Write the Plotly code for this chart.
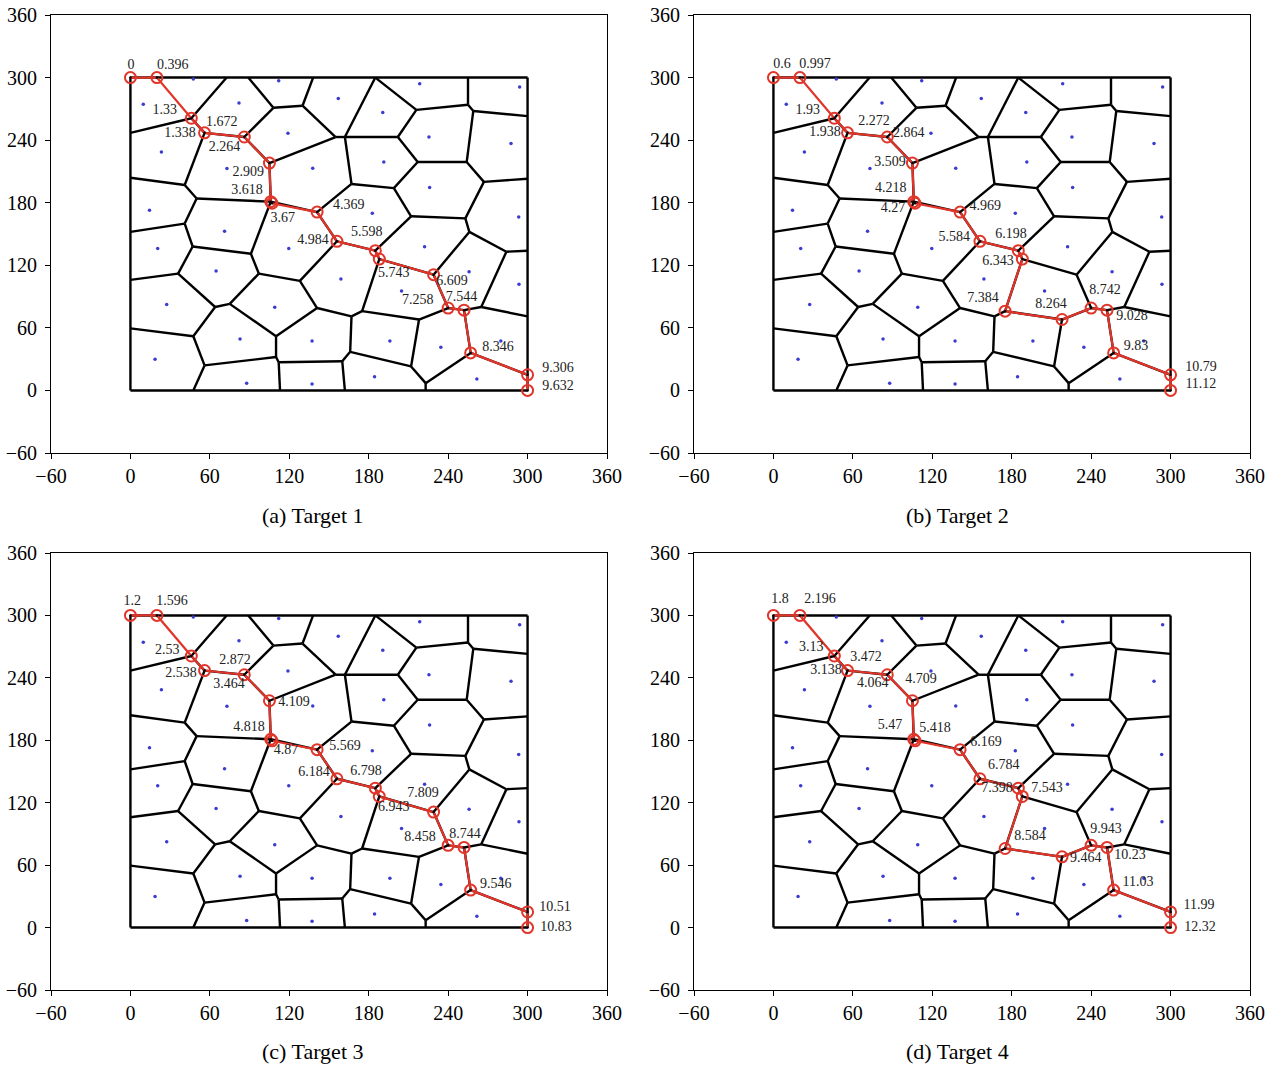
import plotly.graph_objects as go

FONT = "Liberation Serif"

# ---------------- Voronoi vertices (data coordinates) ----------------
VERT_NAMES = ["c00", "c30", "c33", "c03",
              "t1", "t2", "t3", "t4", "t5",
              "l1", "l2", "l3", "l4", "l5",
              "r1", "r2", "r3", "r4", "r5",
              "b1", "b2", "b3", "b4",
              "A", "B", "C", "D", "E", "F", "G", "H", "I", "J", "K", "L", "M", "N", "O", "P",
              "Q", "R", "R2", "S", "T", "U", "V", "W", "X", "Y", "Z", "Z2", "AA", "BB", "CC", "DD",
              "N1", "N2", "N3", "N4", "N5", "EE", "FF", "GG", "HH", "II", "JJ", "KK", "LL", "MM",
              "NN", "OO", "PP", "QQ", "RR", "SS", "TT", "UU"]
VERT_X = [0, 300, 300, 0,
          72.7, 89, 138, 185, 255,
          0, 0, 0, 0, 0,
          300, 300, 300, 300, 300,
          47.5, 113, 162, 223,
          46, 56, 41, 86, 50, 41, 108, 130, 155, 162, 202, 216, 255, 259, 254, 217,
          267, 253, 256, 199, 167, 141, 212, 284, 229, 265, 252, 240, 218, 212, 223, 257,
          105, 106, 156, 185, 188, 128, 141, 167, 175, 166, 160, 112, 110, 110,
          47, 91, 97, 75, 64, 36, 47.5, 56]
VERT_Y = [0, 0, 300, 300,
          300, 300, 300, 300, 300,
          247, 204, 152, 106, 59.5,
          263, 203, 134, 71, 15,
          0, 0, 0, 0,
          261, 247, 197, 243, 184, 160, 271, 273, 243, 243, 243, 269, 274, 268, 219, 219,
          200, 165, 152, 194, 198, 171, 167, 133, 111, 80, 77, 79, 68, 23, 7, 36,
          218, 181, 143, 134, 126, 105, 79, 71, 76, 37, 28, 27, 32, 52,
          138, 131, 112, 83, 80, 112, 52, 24]

EDGES = [("c03", "c33"), ("c33", "c30"), ("c30", "c00"), ("c00", "c03"),
         ("A", "t1"), ("A", "l1"), ("A", "B"), ("B", "C"), ("B", "D"), ("C", "l2"), ("C", "E"),
         ("E", "N2"), ("E", "F"), ("F", "l3"), ("F", "NN"), ("D", "G"), ("D", "N1"),
         ("G", "t2"), ("G", "H"), ("H", "t3"), ("H", "I"), ("I", "J"), ("I", "N1"),
         ("J", "t4"), ("J", "T"), ("J", "K"), ("K", "L"), ("L", "t4"), ("K", "P"),
         ("L", "M"), ("M", "t5"), ("M", "N"), ("N", "r1"), ("N", "O"), ("O", "P"), ("O", "Q"),
         ("Q", "r2"), ("Q", "R"), ("P", "S"), ("S", "T"), ("S", "V"), ("T", "U"),
         ("U", "N2"), ("U", "N3"), ("V", "R"), ("V", "N4"), ("R", "R2"), ("R2", "W"),
         ("R2", "X"), ("W", "r3"), ("W", "Y"), ("Y", "r4"), ("Y", "Z"), ("Z", "Z2"),
         ("Z2", "X"), ("Z2", "AA"), ("Z", "DD"), ("AA", "BB"), ("AA", "HH"), ("BB", "CC"),
         ("BB", "II"), ("CC", "DD"), ("CC", "b4"), ("DD", "r5"), ("X", "N5"), ("N5", "N4"),
         ("N5", "HH"), ("N4", "N3"), ("N3", "EE"), ("EE", "PP"), ("EE", "FF"), ("FF", "GG"),
         ("FF", "MM"), ("GG", "HH"), ("GG", "II"), ("II", "JJ"), ("JJ", "b3"), ("JJ", "KK"),
         ("KK", "b2"), ("KK", "LL"), ("LL", "MM"), ("LL", "UU"), ("MM", "QQ"), ("QQ", "PP"),
         ("QQ", "RR"), ("RR", "SS"), ("RR", "TT"), ("SS", "NN"), ("SS", "l4"), ("NN", "OO"),
         ("OO", "N2"), ("OO", "PP"), ("TT", "l5"), ("TT", "UU"), ("UU", "b1"), ("N1", "N2")]

# ---------------- sites (blue dots) ----------------
SITE_X = [47.5, 9.7, 82, 112, 157, 190.6, 218.5, 294, 23.4, 72.9, 119, 137.7, 191.4, 225.5,
          287.5, 14.4, 71.1, 182.7, 226, 293.3, 20.6, 64.7, 119.6, 159, 204.8, 222.2, 255.8,
          293.5, 27.4, 109, 82.8, 137.2, 196, 234.5, 279.8, 18.6, 87.8, 137.2, 184.4, 261.7]
SITE_Y = [298.6, 274.3, 275.6, 297, 280, 266.6, 294, 291, 228.6, 212.8, 246.7, 213, 219, 243,
          236.7, 172.8, 152.7, 170, 194.6, 166.3, 136.2, 114.5, 136.2, 106.8, 95.3, 137.8, 113.8,
          101.7, 82.5, 79.7, 49.3, 47.4, 47.5, 41.3, 47.4, 29.8, 6.8, 6.1, 13.1, 11]

# ---------------- red routes ----------------
PATH1_X = [0, 20, 46, 56, 86, 105, 106, 107, 141, 156, 185, 188, 229, 240, 252, 257, 300, 300]
PATH1_Y = [300, 300, 261, 247, 243, 218, 181, 179.5, 171, 143, 134, 126, 111, 79, 77, 36, 15, 0]
PATH2_X = [0, 20, 46, 56, 86, 105, 106, 107, 141, 156, 185, 188, 175, 218, 240, 252, 257, 300, 300]
PATH2_Y = [300, 300, 261, 247, 243, 218, 181, 179.5, 171, 143, 134, 126, 76, 68, 79, 77, 36, 15, 0]

# ---------------- time labels ----------------
LAB_A = ["0", "0.396", "1.33", "1.672", "1.338", "2.264", "2.909", "3.618", "3.67", "4.369",
         "4.984", "5.598", "5.743", "6.609", "7.258", "7.544", "8.346", "9.306", "9.632"]
LAB_A_X = [0.5, 32, 26, 69, 37.5, 71, 89, 88, 115, 165, 138, 178.5, 199, 243, 217, 250, 277.6, 323, 323]
LAB_A_Y = [312, 312, 268, 257, 246, 233, 209, 192, 164.5, 177, 144, 151, 112.5, 104, 86, 89.5, 40.7, 21.5, 4]

LAB_B = ["0.6", "0.997", "1.93", "2.272", "1.938", "2.864", "3.509", "4.218", "4.27", "4.969",
         "5.584", "6.198", "6.343", "7.384", "8.264", "8.742", "9.028", "9.83", "10.79", "11.12"]
LAB_B_X = [6.5, 31.4, 26, 76, 39, 102.3, 88, 88.7, 90.3, 160, 136.5, 179.5, 169.6, 158.3, 209.7,
           250.5, 270.8, 273.8, 322.9, 322.9]
LAB_B_Y = [313, 313, 268.7, 258, 247.7, 246.7, 219, 194, 174, 176, 147, 150, 124, 88.6, 82, 96,
           71.3, 42.6, 22.4, 6]

LAB_C = ["1.2", "1.596", "2.53", "2.538", "2.872", "3.464", "4.109", "4.818", "4.87", "5.569",
         "6.184", "6.798", "6.943", "7.809", "8.458", "8.744", "9.546", "10.51", "10.83"]
LAB_C_X = [1.3, 31.4, 27.9, 38.2, 79, 74.5, 123.6, 89.6, 117.6, 162, 138.7, 177.9, 199, 221,
           218.7, 252.7, 276, 320.7, 321.4]
LAB_C_Y = [313, 313, 266.7, 244.6, 257, 234, 216.7, 192.6, 170.5, 174.5, 148.6, 149.6, 115,
           128.4, 87, 89, 41, 19, 0]

LAB_D = ["1.8", "2.196", "3.13", "3.472", "3.138", "4.064", "4.709", "5.47", "5.418", "6.169",
         "6.784", "7.398", "7.543", "8.584", "9.464", "9.943", "10.23", "11.03", "11.99", "12.32"]
LAB_D_X = [5, 35.2, 28.5, 70, 39.7, 75, 111.5, 88, 122, 160.6, 174, 168.9, 206.7, 193.8, 236,
           251.2, 269.3, 275.4, 321.5, 322.2]
LAB_D_Y = [315.7, 315.7, 269.6, 260, 247.5, 235, 238, 193.8, 191, 177.5, 155.3, 133.3, 133.3,
           87.1, 66, 93.9, 68.9, 43, 20.8, 0]

TITLES = ["(a) Target 1", "(b) Target 2", "(c) Target 3", "(d) Target 4"]
TICK_VALS = [-60, 0, 60, 120, 180, 240, 300, 360]
TICK_TEXT = ["\u221260", "0", "60", "120", "180", "240", "300", "360"]

RED = "#e2352a"
BLUE = "#3b3bd0"

# ---------------- build figure ----------------
idx = {n: i for i, n in enumerate(VERT_NAMES)}
edge_x, edge_y = [], []
for a, b in EDGES:
    edge_x += [VERT_X[idx[a]], VERT_X[idx[b]], None]
    edge_y += [VERT_Y[idx[a]], VERT_Y[idx[b]], None]

panels = [
    (PATH1_X, PATH1_Y, LAB_A, LAB_A_X, LAB_A_Y),
    (PATH2_X, PATH2_Y, LAB_B, LAB_B_X, LAB_B_Y),
    (PATH1_X, PATH1_Y, LAB_C, LAB_C_X, LAB_C_Y),
    (PATH2_X, PATH2_Y, LAB_D, LAB_D_X, LAB_D_Y),
]

X_DOMAINS = [[51 / 1277, 607 / 1277], [694 / 1277, 1250 / 1277]]
Y_DOMAINS = [[1 - 453 / 1066, 1 - 15 / 1066], [1 - 990 / 1066, 1 - 553 / 1066]]
TITLE_POS = [(313 / 1277, 1 - 515 / 1066), (957 / 1277, 1 - 515 / 1066),
             (313 / 1277, 1 - 1051 / 1066), (957 / 1277, 1 - 1051 / 1066)]

fig = go.Figure()
layout_axes = {}
annotations = []
for k, (px, py, lab, lx, ly) in enumerate(panels):
    sfx = "" if k == 0 else str(k + 1)
    xa, ya = "x" + sfx, "y" + sfx
    fig.add_trace(go.Scatter(x=edge_x, y=edge_y, mode="lines", xaxis=xa, yaxis=ya,
                             line=dict(color="black", width=2.4), hoverinfo="skip"))
    fig.add_trace(go.Scatter(x=SITE_X, y=SITE_Y, mode="markers", xaxis=xa, yaxis=ya,
                             marker=dict(color=BLUE, size=3.5), hoverinfo="skip"))
    fig.add_trace(go.Scatter(x=px, y=py, mode="lines+markers", xaxis=xa, yaxis=ya,
                             line=dict(color=RED, width=2.2),
                             marker=dict(symbol="circle-open", size=11, color=RED,
                                         line=dict(width=2, color=RED)),
                             hoverinfo="skip"))
    fig.add_trace(go.Scatter(x=px, y=py, mode="markers", xaxis=xa, yaxis=ya,
                             marker=dict(color="black", size=2.5), hoverinfo="skip"))
    fig.add_trace(go.Scatter(x=lx, y=ly, text=lab, mode="text", xaxis=xa, yaxis=ya,
                             textposition="middle center",
                             textfont=dict(family=FONT, size=14, color="#222222"),
                             hoverinfo="skip"))
    col, row = k % 2, k // 2
    common = dict(range=[-60, 360], tickvals=TICK_VALS, ticktext=TICK_TEXT,
                  showline=True, linecolor="black", linewidth=1, mirror=True,
                  ticks="outside", ticklen=5, tickcolor="black", tickwidth=1,
                  showgrid=False, zeroline=False, automargin=False,
                  tickfont=dict(family=FONT, size=20, color="black"))
    layout_axes["xaxis" + sfx] = dict(domain=X_DOMAINS[col], anchor=ya, **common)
    layout_axes["yaxis" + sfx] = dict(domain=Y_DOMAINS[row], anchor=xa,
                                      ticklabelstandoff=4, **common)
    tx, ty = TITLE_POS[k]
    annotations.append(dict(text=TITLES[k], x=tx, y=ty, xref="paper", yref="paper",
                            showarrow=False, xanchor="center", yanchor="middle",
                            font=dict(family=FONT, size=22, color="black")))

fig.update_layout(width=1277, height=1066, margin=dict(l=0, r=0, t=0, b=0),
                  paper_bgcolor="white", plot_bgcolor="white", showlegend=False,
                  annotations=annotations, **layout_axes)

fig.write_html("out.html")
